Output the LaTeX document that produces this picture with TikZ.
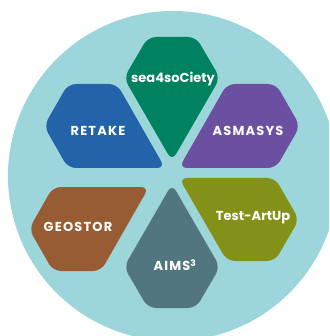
\documentclass[tikz,border=0pt]{standalone}
\usepackage{fontspec}
\setmainfont{Poppins}
\newfontfamily\capsfont{Poppins}[LetterSpace=9]
\definecolor{bgc}{HTML}{9DD6DA}
\definecolor{cgreen}{HTML}{008260}
\definecolor{cblue}{HTML}{2263AA}
\definecolor{cpurple}{HTML}{6B4FA1}
\definecolor{colive}{HTML}{839118}
\definecolor{cslate}{HTML}{527680}
\definecolor{cbrown}{HTML}{975C33}
\begin{document}
\begin{tikzpicture}[x=1pt,y=-1pt,
  cell/.style={rounded corners=8pt},
  lab/.style={text=white,font=\bfseries\fontsize{13}{15}\selectfont,inner sep=0pt},
  caplab/.style={lab,font=\capsfont\bfseries\fontsize{13}{15}\selectfont}]
\useasboundingbox (0,0) rectangle (329,336);
\clip (0,0) rectangle (329,336);
\fill[white] (0,0) rectangle (329,336);
\fill[bgc] (173,176) circle[radius=165pt];
% sea4soCiety
\fill[cgreen,cell] (148,37) -- (196,37) -- (220,78) -- (172,161) -- (124,78) -- cycle;
% RETAKE
\fill[cblue,cell] (68,84) -- (117,84) -- (165,168) -- (68,168) -- (44,126) -- cycle;
% ASMASYS
\fill[cpurple,cell] (227,84) -- (276,84) -- (300,126) -- (276,168) -- (179,168) -- cycle;
% GEOSTOR
\fill[cbrown,cell] (53,187) -- (149,187) -- (101,271) -- (53,271) -- (29,229) -- cycle;
% Test-ArtUp
\fill[colive,cell] (179,178) -- (275,178) -- (299,219.5) -- (275,261) -- (227,261) -- cycle;
% AIMS3
\fill[cslate,cell] (172,184) -- (220,267) -- (196,308) -- (148,308) -- (124,267) -- cycle;
\node[lab] (sea) at (173,79) {sea4soCiety};
\node[caplab] (retake) at (98,131) {RETAKE};
\node[caplab] (asmasys) at (248,131) {ASMASYS};
\node[caplab] (geostor) at (78,227) {GEOSTOR};
\node[lab] (test) at (253,218) {Test-ArtUp};
\node[caplab] (aims) at (175,265) {AIMS\textsuperscript{3}};
\end{tikzpicture}
\end{document}
